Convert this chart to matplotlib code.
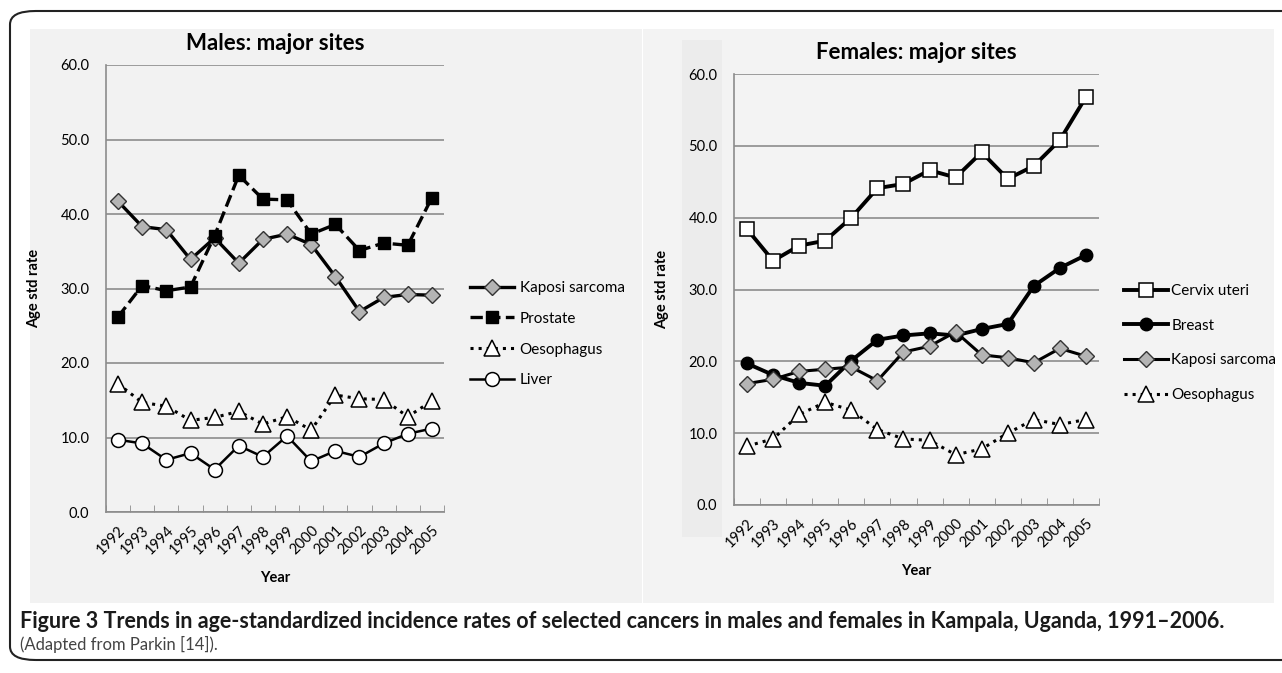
import numpy as np
import matplotlib.pyplot as plt
from matplotlib.patches import FancyBboxPatch, Rectangle

# data
years = ["1992", "1993", "1994", "1995", "1996", "1997", "1998",
         "1999", "2000", "2001", "2002", "2003", "2004", "2005"]

m_kaposi = [41.7, 38.3, 37.9, 33.9, 36.8, 33.4, 36.6, 37.3, 35.9, 31.6, 26.9, 28.8, 29.2, 29.1]
m_prostate = [26.2, 30.4, 29.7, 30.2, 37.1, 45.2, 42.0, 41.9, 37.3, 38.6, 35.1, 36.1, 35.8, 42.2]
m_oesophagus = [17.2, 14.7, 14.2, 12.3, 12.7, 13.5, 11.8, 12.8, 11.0, 15.7, 15.2, 15.1, 12.8, 14.9]
m_liver = [9.7, 9.2, 7.0, 7.9, 5.7, 8.9, 7.4, 10.2, 6.8, 8.2, 7.4, 9.2, 10.5, 11.2]

f_cervix = [38.4, 34.0, 36.1, 36.8, 40.0, 44.1, 44.7, 46.6, 45.6, 49.1, 45.4, 47.2, 50.8, 56.8]
f_breast = [19.7, 18.1, 17.0, 16.6, 20.1, 23.0, 23.6, 23.9, 23.6, 24.5, 25.2, 30.5, 33.0, 34.8]
f_kaposi = [16.9, 17.5, 18.6, 18.9, 19.2, 17.3, 21.3, 22.1, 24.1, 20.9, 20.5, 19.8, 21.8, 20.7]
f_oesophagus = [8.2, 9.2, 12.6, 14.3, 13.2, 10.5, 9.2, 9.0, 7.0, 7.8, 10.0, 11.9, 11.2, 11.9]

W, H = 1282, 673
plt.rcParams["font.family"] = ["Lato", "DejaVu Sans"]

fig = plt.figure(figsize=(W / 100, H / 100), dpi=100)


def box(x0, y0, x1, y1):
    # pixel box (top-left origin) -> figure fraction rect
    return [x0 / W, 1 - y1 / H, (x1 - x0) / W, (y1 - y0) / H]


# outer rounded frame and grey panels (behind the axes)
fig.patches.append(FancyBboxPatch((10 / W, 1 - 660 / H), 1300 / W, 649 / H,
                                  boxstyle="round,pad=0,rounding_size=0.02",
                                  transform=fig.transFigure, fill=False,
                                  edgecolor="#222222", linewidth=1.5, zorder=-1))
fig.patches.append(Rectangle((30 / W, 1 - 603 / H), 612 / W, 574 / H,
                             transform=fig.transFigure, facecolor="#f2f2f2",
                             edgecolor="none", zorder=-2))
fig.patches.append(Rectangle((643 / W, 1 - 603 / H), 631 / W, 574 / H,
                             transform=fig.transFigure, facecolor="#f3f3f3",
                             edgecolor="none", zorder=-2))
fig.patches.append(Rectangle((682 / W, 1 - 537 / H), 40 / W, 497 / H,
                             transform=fig.transFigure, facecolor="#ececec",
                             edgecolor="none", zorder=-2))

x = np.arange(len(years))
grey = "#8c8c8c"


def style_axes(ax, title):
    ax.set_facecolor("none")
    ax.set_xlim(-0.5, len(years) - 0.5)
    ax.set_ylim(0, 60)
    ax.set_yticks(np.arange(0, 61, 10))
    ax.set_yticklabels([f"{v:.1f}" for v in np.arange(0, 61, 10)], fontsize=10.5)
    ax.yaxis.grid(True, color=grey, linewidth=1.2)
    ax.set_axisbelow(True)
    ax.tick_params(axis="y", length=0, pad=12)
    ax.set_xticks(x)
    ax.set_xticklabels(years, rotation=45, ha="right", rotation_mode="anchor", fontsize=10.5)
    ax.set_xticks(np.arange(-0.5, len(years), 1), minor=True)
    ax.tick_params(axis="x", which="major", length=0, pad=8)
    ax.tick_params(axis="x", which="minor", direction="in", length=5, color=grey)
    for s in ["top", "right"]:
        ax.spines[s].set_visible(False)
    for s in ["left", "bottom"]:
        ax.spines[s].set_color(grey)
        ax.spines[s].set_linewidth(1.2)
    ax.set_title(title, fontsize=16, fontweight="bold", pad=11)
    ax.set_ylabel("Age std rate", fontsize=10.5, fontweight="bold", labelpad=14)
    ax.set_xlabel("Year", fontsize=10.5, fontweight="bold", labelpad=10)


# --- males ---
ax1 = fig.add_axes(box(106, 65, 444, 512))
ax1.plot(x, m_kaposi, "-", color="black", lw=2.4, marker="D", ms=8,
         mfc="#b4b4b4", mec="#333333", mew=1, label="Kaposi sarcoma")
ax1.plot(x, m_prostate, "--", color="black", lw=2.4, marker="s", ms=9,
         mfc="black", mec="black", label="Prostate")
ax1.plot(x, m_oesophagus, ":", color="black", lw=2.2, marker="^", ms=11,
         mfc="white", mec="black", mew=1.1, label="Oesophagus")
ax1.plot(x, m_liver, "-", color="black", lw=1.8, marker="o", ms=10,
         mfc="white", mec="black", mew=1.1, label="Liver")
style_axes(ax1, "Males: major sites")
ax1.legend(loc="upper left", bbox_to_anchor=(470 / W, 1 - 281 / H),
           bbox_transform=fig.transFigure, frameon=False, fontsize=11,
           borderpad=0, borderaxespad=0,
           handlelength=2.9, handletextpad=0.35, labelspacing=1.1)

# --- females ---
ax2 = fig.add_axes(box(734, 74, 1099, 505))
ax2.plot(x, f_cervix, "-", color="black", lw=2.8, marker="s", ms=10,
         mfc="white", mec="black", mew=1.1, label="Cervix uteri")
ax2.plot(x, f_breast, "-", color="black", lw=2.8, marker="o", ms=9,
         mfc="black", mec="black", label="Breast")
ax2.plot(x, f_kaposi, "-", color="black", lw=2.2, marker="D", ms=8,
         mfc="#b4b4b4", mec="#333333", mew=1, label="Kaposi sarcoma")
ax2.plot(x, f_oesophagus, ":", color="black", lw=2.2, marker="^", ms=11,
         mfc="white", mec="black", mew=1.1, label="Oesophagus")
style_axes(ax2, "Females: major sites")
ax2.legend(loc="upper left", bbox_to_anchor=(1124 / W, 1 - 284 / H),
           bbox_transform=fig.transFigure, frameon=False, fontsize=11,
           borderpad=0, borderaxespad=0,
           handlelength=2.9, handletextpad=0.2, labelspacing=1.35)

# caption
fig.text(20 / W, 1 - 621 / H,
         "Figure 3 Trends in age-standardized incidence rates of selected cancers "
         "in males and females in Kampala, Uganda, 1991\u20132006.",
         fontsize=15.5, fontweight="bold", color="#1a1a1a", va="center")
fig.text(20 / W, 1 - 644 / H, "(Adapted from Parkin [14]).",
         fontsize=12, color="#444444", va="center")

fig.savefig("out.png", dpi=100)
